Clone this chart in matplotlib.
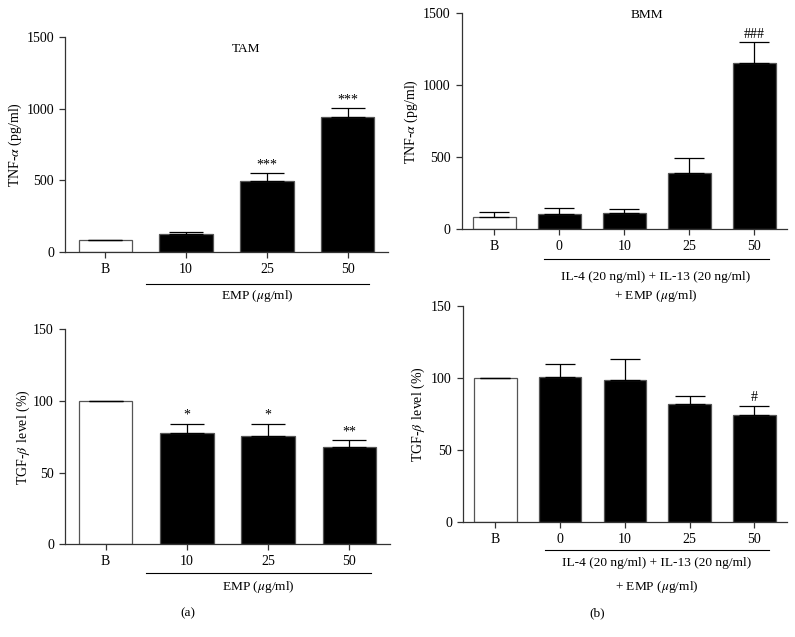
import matplotlib
matplotlib.use("Agg")
import matplotlib.pyplot as plt
import matplotlib.transforms as mtrans
import numpy as np

plt.rcParams['font.family'] = ['Liberation Serif', 'DejaVu Serif']
plt.rcParams['mathtext.fontset'] = 'stix'
plt.rcParams['font.size'] = 9.5

# data
tam_labels = ["B", "10", "25", "50"]
tam_tnf = [81, 126, 493, 946]
tam_tnf_err = [2, 16, 60, 61]
tam_tnf_sig = ["", "", "***", "***"]

bmm_labels = ["B", "0", "10", "25", "50"]
bmm_tnf = [84, 100, 111, 388, 1156]
bmm_tnf_err = [32, 46, 28, 104, 142]
bmm_tnf_sig = ["", "", "", "", "###"]

tam_tgf = [100, 77.9, 75.6, 68.1]
tam_tgf_err = [0, 6.3, 8.6, 4.5]
tam_tgf_sig = ["", "*", "*", "**"]

bmm_tgf = [100, 100.7, 98.6, 81.9, 74.8]
bmm_tgf_err = [0, 9.5, 14.6, 5.8, 6.0]
bmm_tgf_sig = ["", "", "", "", "#"]

fig = plt.figure(figsize=(7.95, 6.37), dpi=100)

ax1 = fig.add_axes([0.0818, 0.6044, 0.4062, 0.337])
ax2 = fig.add_axes([0.5808, 0.641, 0.4088, 0.338])
ax3 = fig.add_axes([0.0818, 0.1455, 0.4088, 0.3375])
ax4 = fig.add_axes([0.5824, 0.180, 0.4072, 0.339])

axcol = "#333333"


def bars(ax, labels, vals, errs, sig, ymax, ystep, ylabel, capsize, lpad):
    x = np.arange(len(labels))
    colors = ["white"] + ["black"] * (len(labels) - 1)
    ax.bar(x, vals, width=0.66, color=colors, edgecolor="#555555", linewidth=0.9, zorder=2)
    ax.errorbar(x, vals, yerr=[np.zeros(len(vals)), errs], fmt="none", ecolor="black",
                elinewidth=0.9, capsize=capsize, capthick=0.9, zorder=3)
    for xi, v, e, s in zip(x, vals, errs, sig):
        if s:
            ax.text(xi, v + e + ymax * 0.008, s, ha="center", va="bottom", fontsize=10)
    ax.set_xlim(-0.5, len(labels) - 0.5)
    ax.set_ylim(0, ymax)
    ax.set_yticks(np.arange(0, ymax + 1, ystep))
    ax.set_xticks(x)
    ax.set_xticklabels(labels)
    ax.set_ylabel(ylabel, fontsize=10, labelpad=lpad)
    for sp in ["top", "right"]:
        ax.spines[sp].set_visible(False)
    for sp in ["left", "bottom"]:
        ax.spines[sp].set_color(axcol)
        ax.spines[sp].set_linewidth(0.9)
    ax.tick_params(colors=axcol, labelcolor="black", width=0.9, length=4, labelsize=10, pad=4)


def group(ax, x0, x1, yline, lines, ys):
    tr = mtrans.blended_transform_factory(ax.transData, ax.transAxes)
    ax.plot([x0, x1], [yline, yline], color="black", lw=0.8, transform=tr, clip_on=False)
    xm = (x0 + x1) / 2
    for t, y in zip(lines, ys):
        ax.text(xm, y, t, ha="center", va="center", transform=tr, fontsize=9.6)


bars(ax1, tam_labels, tam_tnf, tam_tnf_err, tam_tnf_sig, 1500, 500, r"TNF-$\alpha$ (pg/ml)", 12, 2)
ax1.text(1.74, 1416, "TAM", ha="center", va="center", fontsize=9.6)
group(ax1, 0.5, 3.27, -0.149, [r"EMP ($\mu$g/ml)"], [-0.205])

bars(ax2, bmm_labels, bmm_tnf, bmm_tnf_err, bmm_tnf_sig, 1500, 500, r"TNF-$\alpha$ (pg/ml)", 11, 2)
ax2.text(2.35, 1488, "BMM", ha="center", va="center", fontsize=9.6)
group(ax2, 0.76, 4.22, -0.141, ["IL-4 (20 ng/ml) + IL-13 (20 ng/ml)", r"+ EMP ($\mu$g/ml)"],
      [-0.224, -0.312])

bars(ax3, tam_labels, tam_tgf, tam_tgf_err, tam_tgf_sig, 150, 50, r"TGF-$\beta\,$ level (%)", 12, 1)
group(ax3, 0.5, 3.27, -0.133, [r"EMP ($\mu$g/ml)"], [-0.199])

bars(ax4, bmm_labels, bmm_tgf, bmm_tgf_err, bmm_tgf_sig, 150, 50, r"TGF-$\beta\,$ level (%)", 11, 3)
group(ax4, 0.76, 4.22, -0.128, ["IL-4 (20 ng/ml) + IL-13 (20 ng/ml)", r"+ EMP ($\mu$g/ml)"],
      [-0.187, -0.298])

fig.text(0.2365, 0.038, "(a)", ha="center", va="center", fontsize=9.6)
fig.text(0.751, 0.038, "(b)", ha="center", va="center", fontsize=9.6)

fig.savefig("out.png", dpi=100)
